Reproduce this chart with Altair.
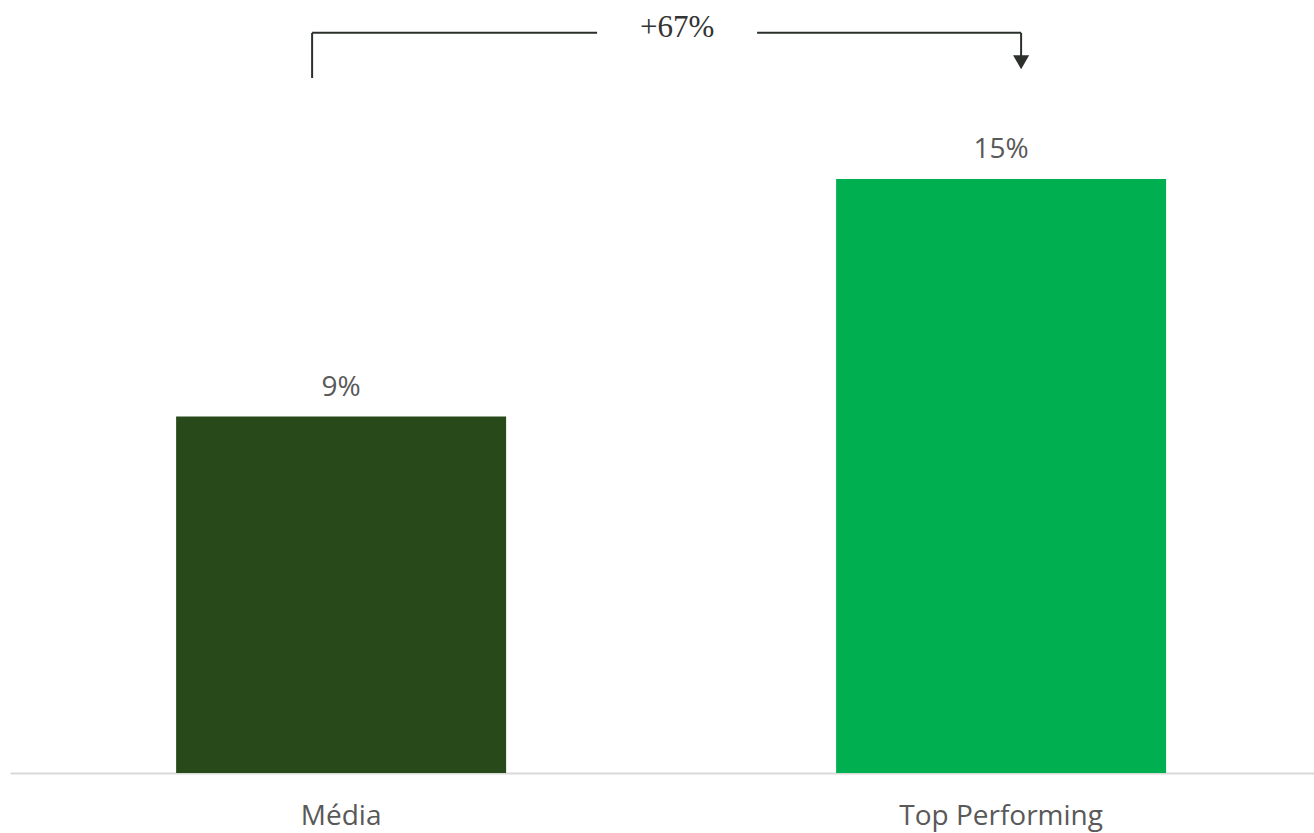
import altair as alt
import pandas as pd

categories = ["Média", "Top Performing"]
values = [0.09, 0.15]
value_labels = ["9%", "15%"]
bar_colors = ["#284a1b", "#00b050"]

uplift_text = "+67%"
bracket_level = 0.1869
left_leg_end = 0.1755
right_leg_end = 0.1805
arrow_pos = 0.1795
y_max = 0.1952

bars_df = pd.DataFrame({"cat": categories, "val": values, "lab": value_labels})

x_scale = alt.Scale(domain=categories, paddingInner=0.5, paddingOuter=0.2379, align=0.529)
y_scale = alt.Scale(domain=[0, y_max], nice=False, zero=True)

x_enc = alt.X("cat:N", scale=x_scale, sort=categories,
              axis=alt.Axis(title=None, labelAngle=0, ticks=False, grid=False,
                            domainColor="#d9d9d9", domainWidth=2,
                            labelFont="Open Sans", labelFontSize=28, labelLimit=0,
                            labelColor="#595959", labelPadding=29))

bars = alt.Chart(bars_df).mark_bar().encode(
    x=x_enc,
    y=alt.Y("val:Q", scale=y_scale, axis=None),
    color=alt.Color("cat:N", scale=alt.Scale(domain=categories, range=bar_colors), legend=None),
)

bar_text = alt.Chart(bars_df).mark_text(
    font="Open Sans", fontSize=28, color="#595959", baseline="bottom", dy=-15
).encode(
    x=alt.X("cat:N", scale=x_scale, sort=categories, bandPosition=0.5),
    y=alt.Y("val:Q", scale=y_scale),
    text="lab:N",
)

line_color = "#2b302b"

seg_df = pd.DataFrame({
    "a": [categories[0], categories[1]],
    "b": [categories[0], categories[1]],
    "y": [bracket_level, bracket_level],
})
left_h = alt.Chart(seg_df.iloc[[0]]).mark_rule(color=line_color, strokeWidth=2, xOffset=-29, x2Offset=256).encode(
    x=alt.X("a:N", scale=x_scale, sort=categories, bandPosition=0.5),
    x2="b:N",
    y=alt.Y("y:Q", scale=y_scale),
)
right_h = alt.Chart(seg_df.iloc[[1]]).mark_rule(color=line_color, strokeWidth=2, xOffset=-244, x2Offset=20).encode(
    x=alt.X("a:N", scale=x_scale, sort=categories, bandPosition=0.5),
    x2="b:N",
    y=alt.Y("y:Q", scale=y_scale),
)

vleft_df = pd.DataFrame({"cat": [categories[0]], "y": [bracket_level], "y2": [left_leg_end]})
vright_df = pd.DataFrame({"cat": [categories[1]], "y": [bracket_level], "y2": [right_leg_end]})
left_v = alt.Chart(vleft_df).mark_rule(color=line_color, strokeWidth=2, xOffset=-29).encode(
    x=alt.X("cat:N", scale=x_scale, sort=categories, bandPosition=0.5),
    y=alt.Y("y:Q", scale=y_scale), y2="y2:Q",
)
right_v = alt.Chart(vright_df).mark_rule(color=line_color, strokeWidth=2, xOffset=20).encode(
    x=alt.X("cat:N", scale=x_scale, sort=categories, bandPosition=0.5),
    y=alt.Y("y:Q", scale=y_scale), y2="y2:Q",
)

arrow_df = pd.DataFrame({"cat": [categories[1]], "y": [arrow_pos]})
arrow = alt.Chart(arrow_df).mark_point(shape="triangle-down", filled=True, color=line_color,
                                       size=260, opacity=1, xOffset=20).encode(
    x=alt.X("cat:N", scale=x_scale, sort=categories, bandPosition=0.5),
    y=alt.Y("y:Q", scale=y_scale),
)

uplift_df = pd.DataFrame({"cat": [categories[0]], "y": [bracket_level], "t": [uplift_text]})
uplift = alt.Chart(uplift_df).mark_text(font="Liberation Serif", fontSize=31, color="#333333",
                                        baseline="middle", xOffset=336, dy=-5).encode(
    x=alt.X("cat:N", scale=x_scale, sort=categories, bandPosition=0.5),
    y=alt.Y("y:Q", scale=y_scale),
    text="t:N",
)

chart = alt.layer(bars, bar_text, left_h, right_h, left_v, right_v, arrow, uplift).properties(
    width=1304, height=773,
    padding={"left": 10, "top": 0, "right": 0, "bottom": 60},
    autosize=alt.AutoSizeParams(type="none"),
    background="white",
).configure_view(strokeWidth=0, stroke=None)

chart.save("out.html", embed_options={"renderer": "svg", "actions": False})
